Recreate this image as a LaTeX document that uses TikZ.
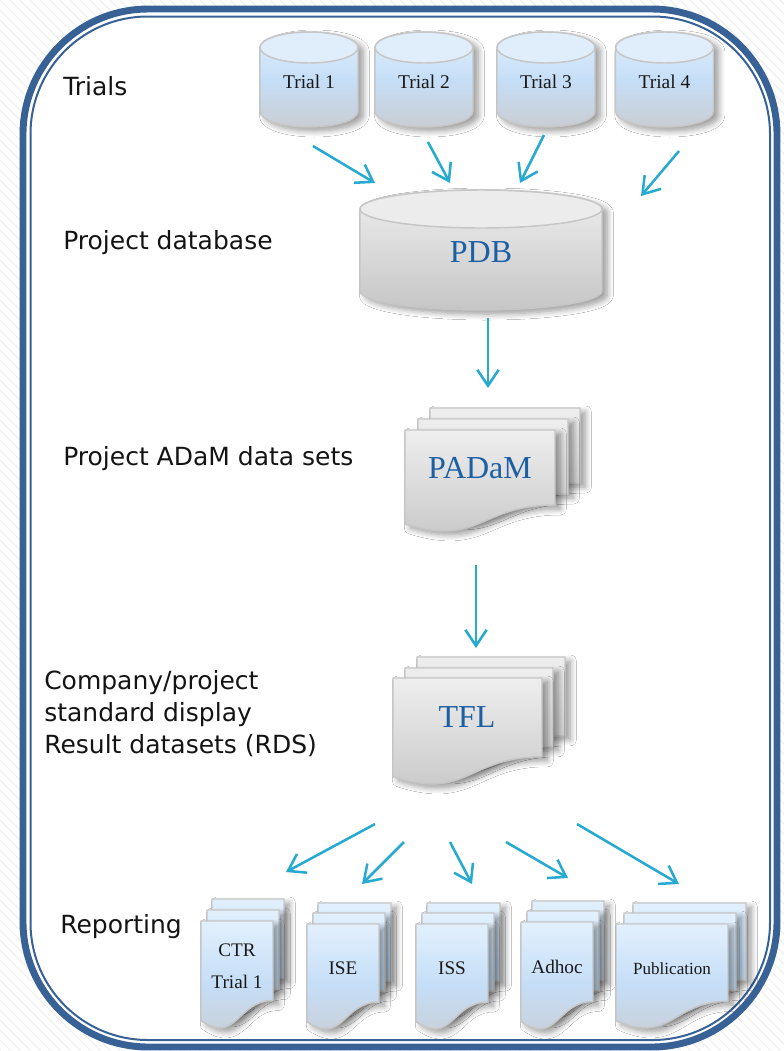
\documentclass[tikz,border=0pt]{standalone}
\usepackage{fontspec}
\setmainfont{Liberation Serif}
\newfontfamily\labfont{DejaVu Sans}
\usetikzlibrary{arrows.meta,shadows.blur}
\definecolor{framecol}{RGB}{56,97,150}
\definecolor{arrowcol}{RGB}{38,170,208}
\definecolor{txtblue}{RGB}{28,95,165}
\definecolor{edgecol}{RGB}{198,198,198}
\definecolor{bluetop}{RGB}{226,240,253}
\definecolor{bluemid}{RGB}{197,222,247}
\definecolor{bluebot}{RGB}{202,205,211}
\definecolor{bluecap}{RGB}{224,238,252}
\definecolor{graytop}{RGB}{238,238,238}
\definecolor{graybot}{RGB}{198,198,198}
\definecolor{graycap}{RGB}{236,236,236}
\definecolor{stripe}{RGB}{238,238,238}
\tikzset{
  shd/.style={blur shadow={shadow xshift=4pt,shadow yshift=-3pt,shadow blur radius=4.5pt,shadow blur steps=8,shadow opacity=40}},
  bluefill/.style={shd,draw=edgecol,line width=1.1pt,top color=bluetop,bottom color=bluebot,middle color=bluemid},
  grayfill/.style={shd,draw=edgecol,line width=1.1pt,top color=graytop,bottom color=graybot},
  lab/.style={font=\labfont\fontsize{18.75pt}{23.6pt}\selectfont,inner sep=0pt,text=black!92,anchor=base west},
  trialtxt/.style={font=\fontsize{14.6pt}{16pt}\selectfont,inner sep=0pt,text=black!90},
  doctxt/.style={font=\fontsize{14.4pt}{24pt}\selectfont,inner sep=0pt,text=black!90,align=center},
  bigtxt/.style={font=\fontsize{24pt}{28pt}\selectfont,inner sep=0pt,text=txtblue},
  arr/.style={draw=arrowcol,line width=1.9pt,-{Straight Barb[length=12pt,width=16pt]}},
}
% document page: style, x, y, width, height
\newcommand{\docpage}[5]{%
  \path[#1] (#2,#3) -- ({#2+#4},#3) -- ({#2+#4},{#3+0.75*#5})
    .. controls ({#2+0.5*#4},{#3+0.75*#5}) and ({#2+0.5*#4},{#3+1.17*#5}) .. (#2,{#3+0.94*#5}) -- cycle;}
% cylinder: style, cap colour, cx, cy top, cy bottom, rx, ry
\newcommand{\cylbody}[7]{%
  \path[#1] ({#3-#6},#4) -- ({#3-#6},#5) arc[start angle=180,end angle=0,x radius=#6,y radius=#7]
    -- ({#3+#6},#4) arc[start angle=0,end angle=-180,x radius=#6,y radius=#7] -- cycle;
  \path[draw=edgecol,line width=1.1pt,fill=#2] (#3,#4) ellipse[x radius=#6,y radius=#7];}
\begin{document}
\begin{tikzpicture}[x=0.75pt,y=-0.75pt]
\useasboundingbox (0,0) rectangle (784,1051);
\begin{scope}
  \clip (0,0) rectangle (784,1051);
  \foreach \i in {-1060,-1050,...,790} \draw[stripe,line width=0.8pt] (\i,0) -- ({\i+1051},1051);
\end{scope}
% frame
\fill[white,rounded corners=94pt] (23,9) rectangle (777,1047);
\draw[framecol,line width=5.2pt,rounded corners=94pt] (23,9) rectangle (777,1047);
\draw[framecol,line width=1.5pt,rounded corners=88pt] (30.5,16.5) rectangle (770,1040);

% left labels
\node[lab] (ltrials) at (63,95) {Trials};
\node[lab] (lpdb) at (63,249) {Project database};
\node[lab] (ladam) at (63,465) {Project ADaM data sets};
\node[lab] (lcomp1) at (44,689) {Company/project};
\node[lab] (lcomp2) at (44,721) {standard display};
\node[lab] (lcomp3) at (44,753) {Result datasets (RDS)};
\node[lab] (lrep) at (60,933) {Reporting};

% trial cylinders
\cylbody{bluefill}{bluecap}{309}{47.5}{111.5}{49}{15.5}
\cylbody{bluefill}{bluecap}{424}{47.5}{111.5}{49}{15.5}
\cylbody{bluefill}{bluecap}{546}{47.5}{111.5}{49}{15.5}
\cylbody{bluefill}{bluecap}{664.5}{47.5}{111.5}{49}{15.5}
\node[trialtxt] (t1) at (309,82) {Trial 1};
\node[trialtxt] (t2) at (424,82) {Trial 2};
\node[trialtxt] (t3) at (546,82) {Trial 3};
\node[trialtxt] (t4) at (664.5,82) {Trial 4};

% PDB
\cylbody{grayfill}{graycap}{481}{209}{291}{121}{19}
\node[bigtxt] (pdb) at (481,252) {PDB};

% PADaM stack
\docpage{grayfill}{430}{408}{150}{100}
\docpage{grayfill}{418}{419}{150}{100}
\docpage{grayfill}{405}{430}{150}{100}
\node[bigtxt] (padam) at (480,468) {PADaM};

% TFL stack
\docpage{grayfill}{417}{657}{148}{105}
\docpage{grayfill}{405}{668}{148}{105}
\docpage{grayfill}{393}{678}{149}{105}
\node[bigtxt] (tfl) at (467,717) {TFL};

% reporting stacks
\docpage{bluefill}{212}{899}{72}{106}
\docpage{bluefill}{207}{910}{72}{106}
\docpage{bluefill}{201}{921}{72}{106}
\node[doctxt] (ctr) at (237,966) {CTR\\Trial 1};

\docpage{bluefill}{318}{903}{73}{104}
\docpage{bluefill}{313}{913}{72}{104}
\docpage{bluefill}{307}{924}{72}{104}
\node[doctxt] (ise) at (343,968) {ISE};

\docpage{bluefill}{427}{903}{73}{104}
\docpage{bluefill}{422}{913}{72}{104}
\docpage{bluefill}{416}{924}{72}{104}
\node[doctxt] (iss) at (452,968) {ISS};

\docpage{bluefill}{532}{901}{72}{106}
\docpage{bluefill}{527}{911}{72}{106}
\docpage{bluefill}{521}{922}{72}{106}
\node[doctxt] (adhoc) at (557,967) {Adhoc};

\docpage{bluefill}{633}{903}{113}{103}
\docpage{bluefill}{624}{913}{112}{103}
\docpage{bluefill}{616}{924}{112}{103}
\node[doctxt,font=\fontsize{12.8pt}{15pt}\selectfont] (pub) at (672,969) {Publication};

% arrow end points
\coordinate (a1s) at (313,146); \coordinate (a1e) at (375,183);
\coordinate (a2s) at (428,142); \coordinate (a2e) at (450,183);
\coordinate (a3s) at (544,135); \coordinate (a3e) at (520,183);
\coordinate (a4s) at (679,151); \coordinate (a4e) at (641,196);
\coordinate (a5s) at (488,318); \coordinate (a5e) at (488,388);
\coordinate (a6s) at (476,565); \coordinate (a6e) at (476,648);
\coordinate (b1s) at (375,824); \coordinate (b1e) at (286,872);
\coordinate (b2s) at (404,842); \coordinate (b2e) at (362,884);
\coordinate (b3s) at (450,842); \coordinate (b3e) at (472,884);
\coordinate (b4s) at (506,842); \coordinate (b4e) at (568,878);
\coordinate (b5s) at (577,824); \coordinate (b5e) at (679,884);
\foreach \a in {a1,a2,a3,a4,a5,a6,b1,b2,b3,b4,b5}
  \draw[arr] (\a s) -- (\a e);
\end{tikzpicture}
\end{document}
